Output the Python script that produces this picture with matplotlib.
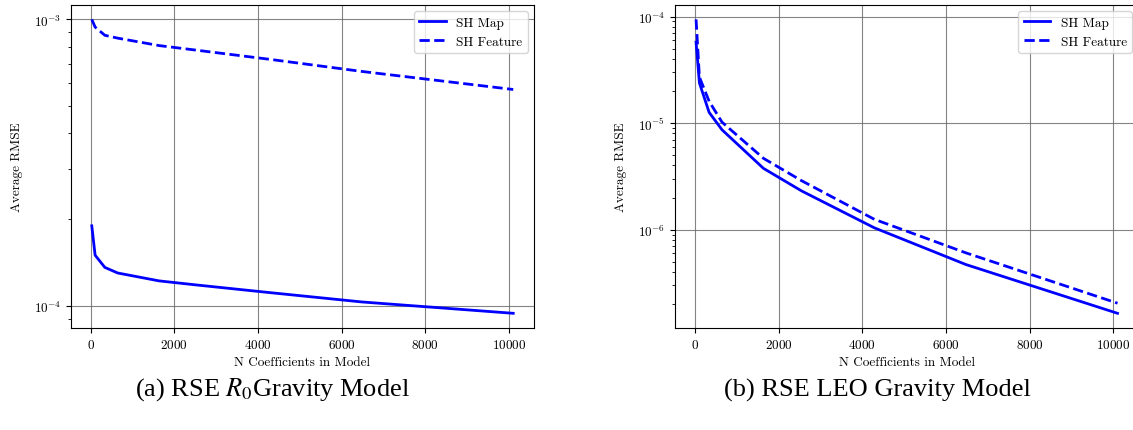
import matplotlib
matplotlib.use("Agg")
import matplotlib.pyplot as plt

# === data ===
n_coeffs = [30, 110, 342, 650, 1640, 2550, 4290, 6480, 10100]

r0_map = [1.90e-4, 1.50e-4, 1.36e-4, 1.30e-4, 1.22e-4, 1.18e-4, 1.11e-4, 1.03e-4, 9.4e-5]
r0_feature = [1.0e-3, 9.4e-4, 8.8e-4, 8.6e-4, 8.1e-4, 7.8e-4, 7.25e-4, 6.58e-4, 5.69e-4]

leo_map = [5.75e-5, 2.38e-5, 1.26e-5, 8.65e-6, 3.76e-6, 2.31e-6, 1.04e-6, 4.7e-7, 1.64e-7]
leo_feature = [9.4e-5, 2.7e-5, 1.6e-5, 1.02e-5, 4.67e-6, 2.88e-6, 1.25e-6, 6.05e-7, 2.04e-7]

captions = ["(a) RSE $R_0$Gravity Model", "(b) RSE LEO Gravity Model"]

# === style ===
plt.rcParams["font.family"] = "serif"
plt.rcParams["font.serif"] = ["cmr10"]
plt.rcParams["mathtext.fontset"] = "cm"
plt.rcParams["axes.formatter.use_mathtext"] = True
plt.rcParams["axes.unicode_minus"] = False

fig = plt.figure(figsize=(11.33, 4.31), dpi=100)
W, H = 1133, 431
ax_w = 463.6 / W
ax_h = 323.3 / H
ax_b = 102 / H
ax1 = fig.add_axes([70.7 / W, ax_b, ax_w, ax_h])
ax2 = fig.add_axes([675 / W, ax_b, ax_w, ax_h])

fs = 9.5
for ax, ymap, yfeat in [(ax1, r0_map, r0_feature), (ax2, leo_map, leo_feature)]:
    ax.plot(n_coeffs, ymap, color="blue", linestyle="-", linewidth=2, label="SH Map")
    ax.plot(n_coeffs, yfeat, color="blue", linestyle="--", linewidth=2, label="SH Feature")
    ax.set_yscale("log")
    ax.set_xlabel("N Coefficients in Model", fontsize=fs)
    ax.set_ylabel("Average RMSE", fontsize=fs, labelpad=7.5)
    ax.tick_params(labelsize=fs)
    ax.grid(True, which="major", color="0.4", linewidth=0.8, alpha=0.8)
    ax.legend(loc="upper right", fontsize=fs)

for i, cap in enumerate(captions):
    xc = [272, 877][i] / W
    fig.text(xc, 41 / H, cap, ha="center", va="center", fontsize=19,
             family="Liberation Serif", math_fontfamily="stix")

fig.savefig("out.png", dpi=100)
